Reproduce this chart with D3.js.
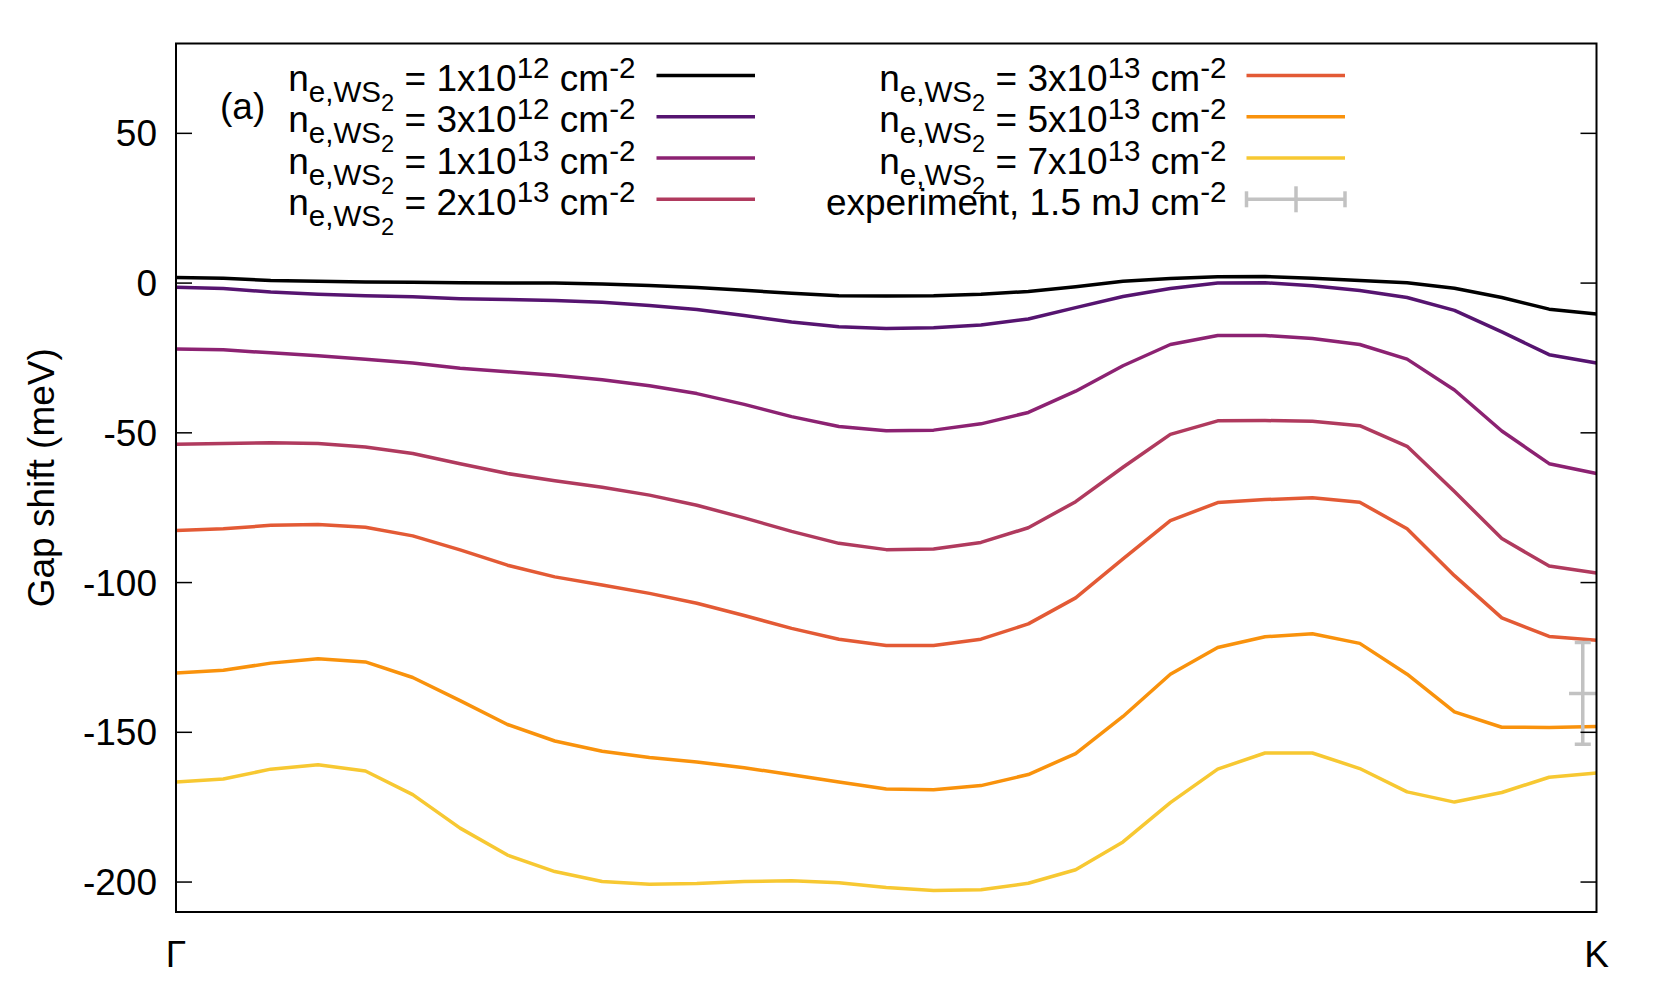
<!DOCTYPE html>
<html lang="en">
	<head>
		<meta charset="utf-8">
		<title>Gap shift</title>
		<script type="text/javascript" src="https://cdn.jsdelivr.net/npm/d3@7"></script>
		<style type="text/css">
			body { margin: 0; background: #fff; }
			text { font-family: "Liberation Sans", Arial, sans-serif; fill: #000; }
		</style>
	</head>
	<body>
		<script type="text/javascript">

			// k-path labels (31 points from Γ to K)
			var kLabels = ["Γ", "K"]
			var yTicks = [-200, -150, -100, -50, 0, 50]

			// gap shift (meV) along the path, one list per electron density
			var shift1e12 = [1.9, 1.6, 0.9, 0.6, 0.4, 0.3, 0.1, 0.0, 0.0, -0.3, -0.8, -1.5, -2.4, -3.4, -4.2, -4.3, -4.2, -3.7, -2.8, -1.2, 0.6, 1.5, 2.1, 2.2, 1.6, 0.9, 0.1, -1.7, -4.8, -8.7, -10.3]
			var shift3e12 = [-1.4, -1.8, -3.0, -3.7, -4.2, -4.6, -5.2, -5.5, -5.8, -6.4, -7.5, -8.8, -10.8, -13.0, -14.6, -15.2, -14.9, -14.0, -12.0, -8.2, -4.5, -1.8, 0.0, 0.1, -0.9, -2.5, -4.8, -9.1, -16.3, -23.9, -26.7]
			var shift1e13 = [-22.0, -22.3, -23.3, -24.3, -25.4, -26.7, -28.4, -29.6, -30.8, -32.3, -34.3, -36.9, -40.5, -44.6, -47.9, -49.3, -49.1, -47.0, -43.2, -36.1, -27.6, -20.5, -17.5, -17.5, -18.5, -20.5, -25.4, -35.7, -49.4, -60.3, -63.6]
			var shift2e13 = [-53.8, -53.6, -53.3, -53.6, -54.7, -56.9, -60.3, -63.6, -66.0, -68.2, -70.8, -74.2, -78.4, -82.9, -86.9, -89.0, -88.8, -86.6, -81.7, -73.0, -61.5, -50.5, -46.0, -45.9, -46.1, -47.6, -54.5, -69.6, -85.3, -94.5, -96.8]
			var shift3e13 = [-82.6, -82.0, -80.9, -80.6, -81.5, -84.4, -89.1, -94.2, -98.1, -100.8, -103.6, -106.9, -111.0, -115.3, -118.9, -121.0, -121.0, -118.9, -113.8, -105.1, -92.1, -79.3, -73.3, -72.3, -71.7, -73.2, -82.0, -97.7, -111.8, -118.0, -119.3]
			var shift5e13 = [-130.2, -129.3, -126.9, -125.4, -126.5, -131.7, -139.4, -147.4, -152.9, -156.3, -158.4, -159.9, -161.8, -164.2, -166.6, -168.9, -169.2, -167.8, -164.1, -157.1, -144.7, -130.6, -121.7, -118.1, -117.1, -120.3, -130.6, -143.2, -148.3, -148.4, -148.1]
			var shift7e13 = [-166.6, -165.6, -162.3, -160.8, -162.9, -170.8, -182.0, -191.0, -196.5, -199.8, -200.7, -200.5, -199.8, -199.6, -200.2, -201.8, -202.8, -202.6, -200.4, -195.9, -186.6, -173.5, -162.3, -156.9, -156.9, -162.1, -169.9, -173.3, -170.1, -165.0, -163.6]

			var densityMantissa = ["1", "3", "1", "2", "3", "5", "7"]
			var densityExponent = ["12", "12", "13", "13", "13", "13", "13"]
			var seriesColors = ["#000000", "#561470", "#8c2272", "#b03a5e", "#e35a35", "#f9920c", "#f7c832"]

			// experiment point: k position (in path index units), value and errors
			var expK = 29.71, expKerr = 0.29
			var expShift = -137, expShiftErr = 17

			var allSeries = [shift1e12, shift3e12, shift1e13, shift2e13, shift3e13, shift5e13, shift7e13]

			var w = 1661, h = 997
			var padL = 176, padR = 1596.5, padT = 43.5, padB = 912
			var fs = 37

			var svg = d3.select("body").append("svg").attr("width", w).attr("height", h)

			var xScale = d3.scaleLinear()
				.domain([0, shift1e12.length - 1])
				.range([padL, padR])

			var yScale = d3.scaleLinear()
				.domain([-210, 80])
				.range([padB, padT])

			svg.append("clipPath").attr("id", "plotclip")
				.append("rect")
				.attr("x", padL).attr("y", padT)
				.attr("width", padR - padL).attr("height", padB - padT)

			var plot = svg.append("g").attr("clip-path", "url(#plotclip)")

			var line = d3.line()
				.x(function(d, i) { return xScale(i); })
				.y(function(d) { return yScale(d); })

			// y ticks, mirrored on both sides, pointing inward
			var tickLen = 16
			svg.selectAll(".ytickL")
				.data(yTicks)
				.enter()
				.append("line")
				.attr("x1", padL).attr("x2", padL + tickLen)
				.attr("y1", function(d) { return yScale(d); })
				.attr("y2", function(d) { return yScale(d); })
				.attr("stroke", "#000").attr("stroke-width", 1.5)
			svg.selectAll(".ytickR")
				.data(yTicks)
				.enter()
				.append("line")
				.attr("x1", padR - tickLen).attr("x2", padR)
				.attr("y1", function(d) { return yScale(d); })
				.attr("y2", function(d) { return yScale(d); })
				.attr("stroke", "#000").attr("stroke-width", 1.5)

			plot.selectAll(".curve")
				.data(allSeries)
				.enter()
				.append("path")
				.attr("class", "curve")
				.attr("d", line)
				.attr("fill", "none")
				.attr("stroke", function(d, i) { return seriesColors[i]; })
				.attr("stroke-width", 3.5)
				.attr("stroke-linejoin", "round")

			// experiment error bar
			var gray = "#c2c2c2"
			var ex = xScale(expK)
			var eb = plot.append("g").attr("stroke", gray).attr("stroke-width", 3.5)
			eb.append("line")
				.attr("x1", ex).attr("x2", ex)
				.attr("y1", yScale(expShift + expShiftErr)).attr("y2", yScale(expShift - expShiftErr))
			eb.append("line")
				.attr("x1", ex - 8).attr("x2", ex + 8)
				.attr("y1", yScale(expShift + expShiftErr)).attr("y2", yScale(expShift + expShiftErr))
			eb.append("line")
				.attr("x1", ex - 8).attr("x2", ex + 8)
				.attr("y1", yScale(expShift - expShiftErr)).attr("y2", yScale(expShift - expShiftErr))
			eb.append("line")
				.attr("x1", xScale(expK - expKerr)).attr("x2", xScale(expK + expKerr))
				.attr("y1", yScale(expShift)).attr("y2", yScale(expShift))

			svg.selectAll(".ylabel")
				.data(yTicks)
				.enter()
				.append("text")
				.attr("x", padL - 19)
				.attr("y", function(d) { return yScale(d); })
				.attr("dy", "0.35em")
				.attr("text-anchor", "end")
				.attr("font-size", fs + "px")
				.text(function(d) { return d; })

			svg.selectAll(".xlabel")
				.data(kLabels)
				.enter()
				.append("text")
				.attr("x", function(d, i) { return i == 0 ? xScale(0) : xScale(shift1e12.length - 1); })
				.attr("y", 967)
				.attr("text-anchor", "middle")
				.attr("font-size", fs + "px")
				.text(function(d) { return d; })

			svg.append("text")
				.attr("transform", "translate(41," + ((padT + padB) / 2) + ") rotate(-90)")
				.attr("dy", "0.35em")
				.attr("text-anchor", "middle")
				.attr("font-size", fs + "px")
				.text("Gap shift (meV)")

			// frame
			svg.append("rect")
				.attr("x", padL).attr("y", padT)
				.attr("width", padR - padL).attr("height", padB - padT)
				.attr("fill", "none")
				.attr("stroke", "#000")
				.attr("stroke-width", 2)

			// legend
			svg.append("text")
				.attr("x", 220).attr("y", 119)
				.attr("font-size", fs + "px")
				.text("(a)")

			var rowY = [75.5, 116.8, 158, 199.3]
			var legend = svg.append("g")

			var addDensityLabel = function(x, y, i) {
				var t = legend.append("text")
					.attr("x", x).attr("y", y + 15.5)
					.attr("text-anchor", "end")
					.attr("font-size", fs + "px")
				t.append("tspan").text("n")
				t.append("tspan").attr("font-size", (fs * 0.8) + "px").attr("dy", 11).text("e,WS")
				t.append("tspan").attr("font-size", (fs * 0.64) + "px").attr("dy", 9).text("2")
				t.append("tspan").attr("dy", -20).text(" = " + densityMantissa[i] + "x10")
				t.append("tspan").attr("font-size", (fs * 0.8) + "px").attr("dy", -13).text(densityExponent[i])
				t.append("tspan").attr("dy", 13).text(" cm")
				t.append("tspan").attr("font-size", (fs * 0.8) + "px").attr("dy", -13).text("-2")
			}

			for (var i = 0; i < allSeries.length; i++) {
				var col = i < 4 ? 0 : 1
				var row = col == 0 ? i : i - 4
				var textX = col == 0 ? 635.5 : 1226.5
				var lineX = col == 0 ? 656.5 : 1246.5
				addDensityLabel(textX, rowY[row], i)
				legend.append("line")
					.attr("x1", lineX).attr("x2", lineX + 98.5)
					.attr("y1", rowY[row]).attr("y2", rowY[row])
					.attr("stroke", seriesColors[i])
					.attr("stroke-width", 3.5)
			}

			var et = legend.append("text")
				.attr("x", 1226.5).attr("y", rowY[3] + 15.5)
				.attr("text-anchor", "end")
				.attr("font-size", fs + "px")
			et.append("tspan").text("experiment, 1.5 mJ cm")
			et.append("tspan").attr("font-size", (fs * 0.8) + "px").attr("dy", -13).text("-2")

			var lg = legend.append("g").attr("stroke", gray).attr("stroke-width", 3.5)
			lg.append("line").attr("x1", 1246.5).attr("x2", 1345).attr("y1", rowY[3]).attr("y2", rowY[3])
			lg.append("line").attr("x1", 1246.5).attr("x2", 1246.5).attr("y1", rowY[3] - 8).attr("y2", rowY[3] + 8)
			lg.append("line").attr("x1", 1345).attr("x2", 1345).attr("y1", rowY[3] - 8).attr("y2", rowY[3] + 8)
			lg.append("line").attr("x1", 1296).attr("x2", 1296).attr("y1", rowY[3] - 13).attr("y2", rowY[3] + 13)

		</script>
	</body>
</html>
